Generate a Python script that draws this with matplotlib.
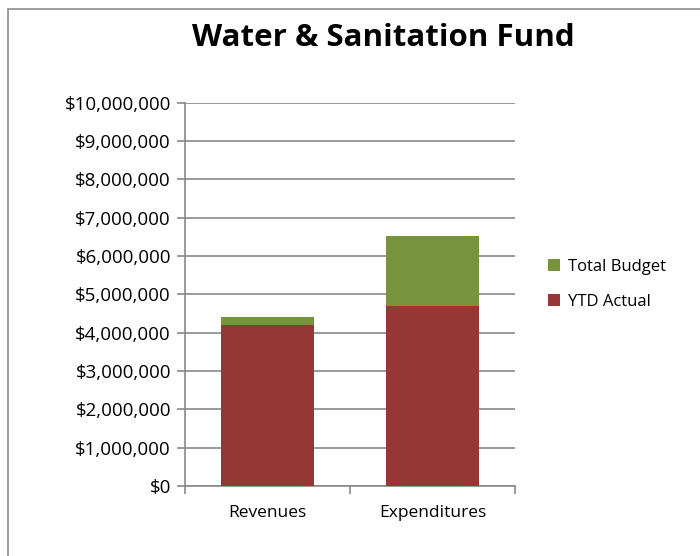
import matplotlib
matplotlib.use("Agg")
import matplotlib.pyplot as plt
from matplotlib.patches import Rectangle
from matplotlib.ticker import FuncFormatter, FixedLocator

# data
categories = ["Revenues", "Expenditures"]
ytd_actual = [4210000, 4710000]
budget_rest = [200000, 1825000]   # Total Budget portion stacked above YTD Actual

GREEN = "#77933C"
RED = "#953735"
GRID = "#898989"

plt.rcParams['font.family'] = ['Open Sans', 'DejaVu Sans']

fig = plt.figure(figsize=(7.0, 5.56), dpi=100)
fig.patches.append(Rectangle((8 / 700, -0.1), 1.2, 1 - 9 / 556 + 0.1,
                             transform=fig.transFigure, fill=False,
                             edgecolor="#8c8c8c", linewidth=1.2))

ax = fig.add_axes([0.264, 0.126, 0.472, 0.689])
x = list(range(len(categories)))
ax.bar(x, ytd_actual, width=0.56, color=RED, label="YTD Actual", zorder=3)
ax.bar(x, budget_rest, width=0.56, bottom=ytd_actual, color=GREEN,
       label="Total Budget", zorder=3)

ax.set_xlim(-0.5, 1.5)
ax.set_ylim(0, 10000000)
ax.set_yticks(range(0, 10000001, 1000000))
ax.yaxis.set_major_formatter(FuncFormatter(lambda v, p: "${:,.0f}".format(v)))
ax.grid(axis="y", color=GRID, linewidth=1.2, zorder=0)

ax.xaxis.set_major_locator(FixedLocator([-0.5, 0.5, 1.5]))
ax.xaxis.set_major_formatter(FuncFormatter(lambda v, p: ""))
ax.xaxis.set_minor_locator(FixedLocator(x))
ax.set_xticklabels(categories, minor=True)
ax.tick_params(axis="x", which="minor", length=0, pad=14, labelsize=12.5)
ax.tick_params(axis="x", which="major", length=6, color=GRID, width=1.2)
ax.tick_params(axis="y", length=6, color=GRID, width=1.2, labelsize=13.5, pad=4)

for s in ["top", "right"]:
    ax.spines[s].set_visible(False)
for s in ["left", "bottom"]:
    ax.spines[s].set_color(GRID)
    ax.spines[s].set_linewidth(1.2)

handles, labels = ax.get_legend_handles_labels()
fig.legend(handles[::-1], labels[::-1], loc="center left",
           bbox_to_anchor=(0.762, 0.489), frameon=False, fontsize=12,
           handlelength=0.7, handleheight=0.7, handletextpad=0.45,
           labelspacing=1.15)

fig.text(0.547, 0.932, "Water & Sanitation Fund", ha="center", va="center",
         fontsize=22.5, fontweight="bold")

fig.savefig("out.png", dpi=100)
